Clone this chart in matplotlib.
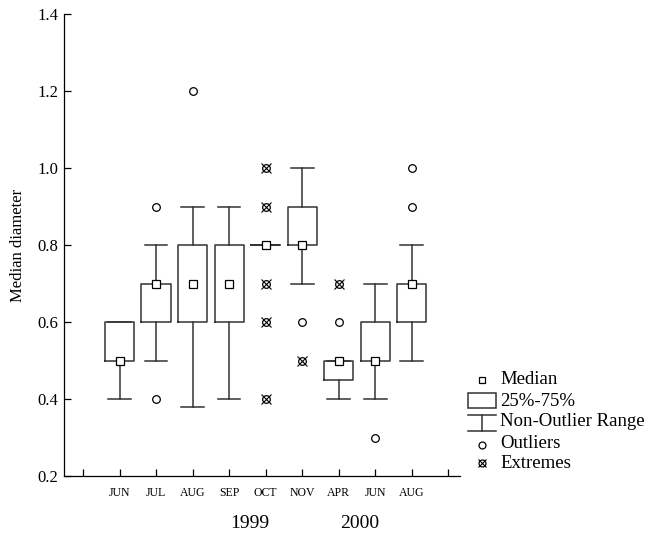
import matplotlib
matplotlib.use("Agg")
import matplotlib.pyplot as plt
from matplotlib.patches import Rectangle

# ---- data ----
months = ["JUN", "JUL", "AUG", "SEP", "OCT", "NOV", "APR", "JUN", "AUG"]
medians = [0.50, 0.70, 0.70, 0.70, 0.80, 0.80, 0.50, 0.50, 0.70]
q1 = [0.50, 0.60, 0.60, 0.60, 0.80, 0.80, 0.45, 0.50, 0.60]
q3 = [0.60, 0.70, 0.80, 0.80, 0.80, 0.90, 0.50, 0.60, 0.70]
whis_lo = [0.40, 0.50, 0.38, 0.40, 0.80, 0.70, 0.40, 0.40, 0.50]
whis_hi = [0.60, 0.80, 0.90, 0.90, 0.80, 1.00, 0.50, 0.70, 0.80]
outliers = [[], [0.90, 0.40], [1.20], [], [], [0.60], [0.60], [0.30], [0.90, 1.00]]
extremes = [[], [], [], [], [1.00, 0.90, 0.70, 0.60, 0.40], [0.50], [0.70], [], []]
years = ["1999", "2000"]
yticks = [0.2, 0.4, 0.6, 0.8, 1.0, 1.2, 1.4]

plt.rcParams["font.family"] = ["Liberation Serif", "DejaVu Serif"]
W, H = 647, 536
fig = plt.figure(figsize=(W / 100, H / 100), dpi=100)
ax = fig.add_axes([64 / W, 1 - 476 / H, (460 - 64) / W, (476 - 14) / H])

lc = "#333333"
positions = list(range(1, len(months) + 1))
stats = []
for i in range(len(months)):
    stats.append(dict(med=medians[i], q1=q1[i], q3=q3[i], whislo=whis_lo[i],
                      whishi=whis_hi[i], fliers=outliers[i]))
ax.bxp(stats, positions=positions, widths=0.8, capwidths=0.62,
       showfliers=True, manage_ticks=False,
       boxprops=dict(color=lc, lw=1.1),
       whiskerprops=dict(color=lc, lw=1.1),
       capprops=dict(color=lc, lw=1.1),
       medianprops=dict(color=lc, lw=0, alpha=0),
       flierprops=dict(marker="o", markersize=5.5, markerfacecolor="white",
                       markeredgecolor="black", markeredgewidth=0.9, linestyle="none"))

ax.plot(positions, medians, linestyle="none", marker="s", markersize=5.2,
        markerfacecolor="white", markeredgecolor="black", markeredgewidth=0.9, zorder=5)

ex_x, ex_y = [], []
for p, vals in zip(positions, extremes):
    for v in vals:
        ex_x.append(p)
        ex_y.append(v)
ax.plot(ex_x, ex_y, linestyle="none", marker="o", markersize=5.5, markerfacecolor="white",
        markeredgecolor="black", markeredgewidth=0.9, zorder=5)
ax.plot(ex_x, ex_y, linestyle="none", marker="x", markersize=6.5,
        markeredgecolor="black", markeredgewidth=0.8, zorder=6)

ax.set_xlim(-0.52, 10.32)
ax.set_ylim(0.2, 1.4)
ax.set_xticks(range(0, len(months) + 2))
ax.set_xticklabels([""] + months + [""], fontsize=8.5)
ax.set_yticks(yticks)
ax.set_yticklabels([f"{v:.1f}" for v in yticks], fontsize=12)
ax.tick_params(axis="x", direction="in", length=5, width=0.9, pad=8)
ax.tick_params(axis="y", direction="in", length=5, width=0.9, pad=4)
ax.spines["top"].set_visible(False)
ax.spines["right"].set_visible(False)
for s in ("left", "bottom"):
    ax.spines[s].set_linewidth(0.9)
ax.set_ylabel("Median diameter", fontsize=12, labelpad=8)

# year labels
fig.text(250 / W, 1 - 523 / H, years[0], fontsize=14, ha="center", va="center")
fig.text(360 / W, 1 - 523 / H, years[1], fontsize=14, ha="center", va="center")

# legend drawn in pixel coordinates
lg = fig.add_axes([0, 0, 1, 1], facecolor="none")
lg.set_xlim(0, W)
lg.set_ylim(H, 0)
lg.axis("off")
lg.plot([482], [380], marker="s", markersize=5, markerfacecolor="white",
        markeredgecolor="black", markeredgewidth=0.9)
lg.add_patch(Rectangle((468, 393), 28, 15, fill=False, edgecolor=lc, lw=1.1))
lg.plot([468, 496], [415, 415], color=lc, lw=1.1)
lg.plot([482, 482], [415, 431], color=lc, lw=1.1)
lg.plot([468, 496], [431, 431], color=lc, lw=1.1)
lg.plot([482], [445], marker="o", markersize=5, markerfacecolor="white",
        markeredgecolor="black", markeredgewidth=0.9)
lg.plot([482], [463], marker="o", markersize=5, markerfacecolor="white",
        markeredgecolor="black", markeredgewidth=0.9)
lg.plot([482], [463], marker="x", markersize=6, markeredgecolor="black", markeredgewidth=0.8)
labels = ["Median", "25%-75%", "Non-Outlier Range", "Outliers", "Extremes"]
ys = [379, 401, 422, 443, 463]
for t, y in zip(labels, ys):
    lg.text(500, y, t, fontsize=13.5, va="center", ha="left")

fig.savefig("out.png", dpi=100)
